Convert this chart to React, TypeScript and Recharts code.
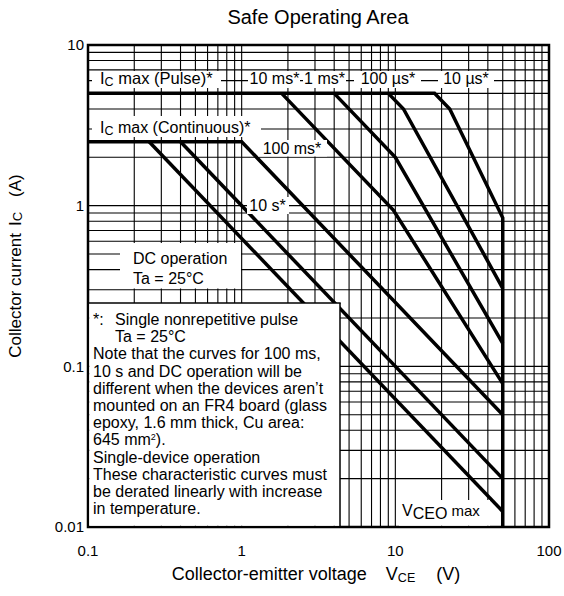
import React from "react";
import { LineChart, Line, XAxis, YAxis, CartesianGrid, ReferenceArea } from "recharts";

const FONT = "'Liberation Sans', Arial, Helvetica, sans-serif";

// grid / tick values
const xTicks = [0.1, 0.2, 0.3, 0.4, 0.5, 0.6, 0.7, 0.8, 0.9, 1, 2, 3, 4, 5, 6, 7, 8, 9, 10, 20, 30, 40, 50, 60, 70, 80, 90, 100];
const yTicks = [0.01, 0.02, 0.03, 0.04, 0.05, 0.06, 0.07, 0.08, 0.09, 0.1, 0.2, 0.3, 0.4, 0.5, 0.6, 0.7, 0.8, 0.9, 1, 2, 3, 4, 5, 6, 7, 8, 9, 10];
const xLabels = [0.1, 1, 10, 100];
const yLabels = [0.01, 0.1, 1, 10];

type Pt = { v: number; i: number };

// SOA boundary curves (VCE in V, IC in A)
const pulse10us: Pt[] = [
  { v: 0.1, i: 5 },
  { v: 18, i: 5 },
  { v: 22.6, i: 4.0 },
  { v: 50, i: 0.84 },
  { v: 50, i: 0.01 },
];
const pulse100us: Pt[] = [
  { v: 9.0, i: 5 },
  { v: 11.3, i: 4.0 },
  { v: 50, i: 0.306 },
];
const pulse1ms: Pt[] = [
  { v: 4.0, i: 5 },
  { v: 10, i: 2.0 },
  { v: 50, i: 0.139 },
];
const pulse10ms: Pt[] = [
  { v: 1.82, i: 5 },
  { v: 9.7, i: 0.94 },
  { v: 50, i: 0.078 },
];
const pulse100ms: Pt[] = [
  { v: 0.1, i: 2.5 },
  { v: 1.0, i: 2.5 },
  { v: 50, i: 0.05 },
];
const pulse10s: Pt[] = [
  { v: 0.4, i: 2.5 },
  { v: 50, i: 0.02 },
];
const dcOperation: Pt[] = [
  { v: 0.25, i: 2.5 },
  { v: 50, i: 0.0125 },
];

const seriesList = [pulse10us, pulse100us, pulse1ms, pulse10ms, pulse100ms, pulse10s, dcOperation];

const noteLines = [
  "Note that the curves for 100 ms,",
  "10 s and DC operation will be",
  "different when the devices aren\u2019t",
  "mounted on an FR4 board (glass",
  "epoxy, 1.6 mm thick, Cu area:",
];
const noteLines2 = [
  "Single-device operation",
  "These characteristic curves must",
  "be derated linearly with increase",
  "in temperature.",
];

const W = 564;
const H = 596;

const fmtX = (v: number) => (xLabels.includes(v) ? String(v) : "");
const fmtY = (v: number) => (yLabels.includes(v) ? String(v) : "");

const tickStyle = { fill: "#000", fontSize: 15, fontFamily: FONT };

const WhiteBox = ({ x, y, w, h }: { x: number; y: number; w: number; h: number }) => (
  <rect x={x} y={y} width={w} height={h} fill="#fff" />
);

export default function App() {
  const lh = 17.2;
  const noteBase = 325;
  return (
    <div style={{ position: "absolute", left: 0, top: 0, width: W, height: H, background: "#fff", fontFamily: FONT }}>
      <LineChart width={W} height={H} margin={{ top: 45, right: 15, bottom: 0, left: 0 }}>
        <CartesianGrid stroke="#000" strokeWidth={1.1} />
        <XAxis
          dataKey="v"
          type="number"
          scale="log"
          domain={[0.1, 100]}
          allowDataOverflow
          ticks={xTicks}
          interval={0}
          tickFormatter={fmtX}
          height={69}
          axisLine={false}
          tickLine={false}
          tickSize={6}
          tickMargin={12}
          tick={tickStyle}
        />
        <YAxis
          dataKey="i"
          type="number"
          scale="log"
          domain={[0.01, 10]}
          allowDataOverflow
          ticks={yTicks}
          interval={0}
          tickFormatter={fmtY}
          width={88}
          axisLine={false}
          tickLine={false}
          tickSize={4}
          tickMargin={0}
          tick={tickStyle}
        />
        <ReferenceArea x1={0.1} x2={100} y1={0.01} y2={10} fill="none" stroke="#000" strokeWidth={2.5} ifOverflow="visible" />
        {seriesList.map((d, k) => (
          <Line
            key={k}
            data={d}
            dataKey="i"
            type="linear"
            stroke="#000"
            strokeWidth={3.5}
            dot={false}
            activeDot={false}
            isAnimationActive={false}
          />
        ))}
      </LineChart>
      <svg
        width={W}
        height={H}
        style={{ position: "absolute", left: 0, top: 0, pointerEvents: "none" }}
        fontFamily={FONT}
        fill="#000"
      >
        {/* title */}
        <text x={318} y={24} textAnchor="middle" fontSize={20}>Safe Operating Area</text>

        {/* x-axis title */}
        <text x={316} y={580} textAnchor="middle" fontSize={18}>
          Collector-emitter voltage
          <tspan dx={19}>V</tspan>
          <tspan fontSize={12.5} dy={2}>CE</tspan>
          <tspan dy={-2} dx={21}>(V)</tspan>
        </text>

        {/* y-axis title */}
        <text transform="translate(15,266) rotate(-90)" textAnchor="middle" dominantBaseline="central" fontSize={17}>
          Collector current
          <tspan dx={7}>I</tspan>
          <tspan fontSize={13} dy={2}>C</tspan>
          <tspan dy={-2} dx={15}>(A)</tspan>
        </text>

        {/* pulse row labels */}
        <WhiteBox x={92} y={71} w={129} h={17} />
        <text x={100} y={84} fontSize={16.5}>
          I<tspan fontSize={12.5} dy={2}>C</tspan>
          <tspan dy={-2}>{" max (Pulse)*"}</tspan>
        </text>
        <WhiteBox x={248} y={71} w={52} h={17} />
        <text x={274.5} y={84} fontSize={16} textAnchor="middle">10 ms*</text>
        <WhiteBox x={303} y={71} w={43} h={17} />
        <text x={324.5} y={84} fontSize={16} textAnchor="middle">1 ms*</text>
        <WhiteBox x={354} y={71} w={67} h={17} />
        <text x={388} y={84} fontSize={16} textAnchor="middle">100 µs*</text>
        <WhiteBox x={438} y={71} w={56} h={17} />
        <text x={466} y={84} fontSize={16} textAnchor="middle">10 µs*</text>

        {/* continuous row labels */}
        <WhiteBox x={92} y={116} w={169} h={21} />
        <text x={100} y={132.5} fontSize={16}>
          I<tspan fontSize={12.5} dy={2}>C</tspan>
          <tspan dy={-2}>{" max (Continuous)*"}</tspan>
        </text>
        <WhiteBox x={258} y={140} w={69} h={16.5} />
        <text x={292} y={154} fontSize={16} textAnchor="middle">100 ms*</text>
        <WhiteBox x={247} y={197} w={42} h={17} />
        <text x={267.5} y={211} fontSize={16} textAnchor="middle">10 s*</text>

        {/* DC operation box */}
        <WhiteBox x={120} y={243} w={121} h={45.5} />
        <text x={133} y={263.5} fontSize={16}>DC operation</text>
        <text x={133} y={284} fontSize={16}>Ta = 25°C</text>

        {/* note box */}
        <rect x={89.3} y={303} width={250.7} height={222.7} fill="#fff" />
        <line x1={88} y1={303} x2={340.7} y2={303} stroke="#000" strokeWidth={1.5} />
        <line x1={340} y1={303} x2={340} y2={527} stroke="#000" strokeWidth={1.5} />
        <text x={93} y={noteBase} fontSize={16}>*:</text>
        <text x={115} y={noteBase} fontSize={16}>Single nonrepetitive pulse</text>
        <text x={115} y={noteBase + lh} fontSize={16}>Ta = 25°C</text>
        {noteLines.map((t, k) => (
          <text key={k} x={93} y={noteBase + lh * (k + 2)} fontSize={16}>{t}</text>
        ))}
        <text x={93} y={noteBase + lh * 7} fontSize={16}>
          645 mm<tspan fontSize={9} dy={-5.5}>2</tspan>
          <tspan dy={5.5}>).</tspan>
        </text>
        {noteLines2.map((t, k) => (
          <text key={"b" + k} x={93} y={noteBase + lh * (k + 8)} fontSize={16}>{t}</text>
        ))}

        {/* VCEO max label */}
        <WhiteBox x={399} y={500} w={91} h={25.7} />
        <text x={402} y={516} fontSize={16}>
          V<tspan dy={3}>CEO</tspan>
          <tspan dy={-3} fontSize={15}>{" max"}</tspan>
        </text>
      </svg>
    </div>
  );
}
